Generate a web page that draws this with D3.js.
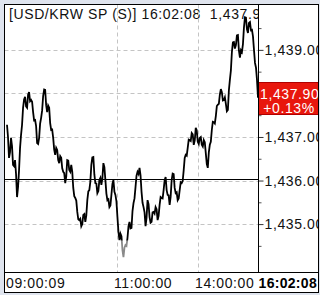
<!DOCTYPE html>
<html>
<head>
<meta charset="utf-8">
<script src="https://cdn.jsdelivr.net/npm/d3@7"></script>
<style>
body { margin: 0; background: #dfe4ee; }
svg { display: block; }
text { font-family: "Liberation Sans", Arial, sans-serif; font-size: 14px; letter-spacing: 0.6px; }
</style>
</head>
<body>
<svg id="chart"></svg>
<script>
// tick prices, evenly spaced from 09:00:09 to 16:02:08
var prices = [
  1437.28, 1437.00, 1436.52, 1436.65, 1436.98, 1436.79, 1436.36, 1436.33, 1436.47, 1436.15,
  1435.62, 1435.85, 1436.24, 1436.75, 1437.05, 1437.28, 1437.67, 1437.86, 1437.92, 1437.70,
  1437.67, 1437.97, 1438.03, 1437.82, 1437.85, 1437.81, 1437.57, 1437.38, 1437.39, 1437.25,
  1436.86, 1436.84, 1436.98, 1437.31, 1437.44, 1437.61, 1437.94, 1438.09, 1438.08, 1437.73,
  1437.57, 1437.72, 1437.67, 1437.32, 1437.16, 1437.17, 1436.98, 1436.71, 1436.59, 1436.75,
  1436.70, 1436.47, 1436.40, 1436.56, 1436.52, 1436.28, 1436.20, 1436.17, 1435.94, 1436.09,
  1436.47, 1436.46, 1436.24, 1436.20, 1436.36, 1436.20, 1435.83, 1435.64, 1435.60, 1435.54,
  1435.28, 1435.11, 1435.09, 1435.12, 1434.95, 1435.00, 1435.21, 1435.23, 1435.05, 1435.20,
  1435.55, 1435.75, 1435.78, 1435.97, 1436.36, 1436.53, 1436.54, 1436.14, 1435.94, 1435.93,
  1435.71, 1435.76, 1436.01, 1436.06, 1435.90, 1436.05, 1436.40, 1436.31, 1436.01, 1435.70,
  1435.55, 1435.57, 1435.39, 1435.43, 1435.67, 1435.92, 1436.01, 1435.74, 1435.67, 1435.52,
  1435.16, 1434.82, 1434.63, 1434.78, 1434.72, 1434.40, 1434.24, 1434.46, 1434.52, 1434.50,
  1434.68, 1434.95, 1435.05, 1434.90, 1434.91, 1435.30, 1435.48, 1435.59, 1435.85, 1436.11,
  1436.20, 1436.15, 1436.29, 1436.12, 1435.74, 1435.49, 1435.39, 1435.27, 1434.95, 1435.15,
  1435.55, 1435.46, 1435.16, 1435.03, 1435.05, 1435.27, 1435.28, 1435.24, 1435.39, 1435.34,
  1435.09, 1435.19, 1435.44, 1435.62, 1435.60, 1435.59, 1435.78, 1436.01, 1436.08, 1435.78,
  1435.67, 1435.66, 1435.44, 1435.63, 1436.01, 1436.16, 1436.15, 1435.83, 1435.71, 1435.73,
  1435.55, 1435.59, 1435.78, 1435.96, 1435.94, 1435.99, 1436.24, 1436.52, 1436.59, 1436.57,
  1436.75, 1436.94, 1436.93, 1436.91, 1437.09, 1437.06, 1436.82, 1436.92, 1437.21, 1437.15,
  1436.89, 1436.84, 1436.98, 1437.00, 1436.82, 1436.78, 1436.93, 1436.88, 1436.63, 1436.38,
  1436.29, 1436.64, 1436.82, 1436.89, 1437.16, 1437.35, 1437.34, 1437.31, 1437.48, 1437.71,
  1437.74, 1437.76, 1437.97, 1438.10, 1438.03, 1437.84, 1437.85, 1437.91, 1437.76, 1437.59,
  1437.62, 1438.07, 1438.31, 1438.53, 1438.95, 1439.17, 1439.18, 1439.03, 1439.11, 1439.33,
  1439.34, 1438.98, 1438.82, 1438.99, 1438.95, 1439.13, 1439.51, 1439.75, 1439.74, 1439.47,
  1439.39, 1439.62, 1439.64, 1439.45, 1439.46, 1439.31, 1439.00, 1438.70, 1438.59, 1438.31,
  1437.90
];
var prevClose = 1436.03;
var lowMark = 1434.62;
var lastPrice = 1437.90;
var changeText = "+0.13%";
var title = "[USD/KRW SP (S)]";
var lastTime = "16:02:08";

var yTicks = [1435, 1436, 1437, 1438, 1439];
var yMinor = [1434.5, 1435.5, 1436.5, 1437.5, 1438.5, 1439.5];
var timeLabels = ["09:00:09", "11:00:00", "14:00:00"];
var timeIndex = [0, 110, 190];

var width = 320, height = 295;
var fLeft = 4.5, fTop = 4.5, fRight = 318.5, plotRight = 258.5, plotBottom = 272.5, fBottom = 292.5;

var svg = d3.select("#chart").attr("width", width).attr("height", height);
var fmt = d3.format(",.2f");

svg.append("rect")
  .attr("x", fLeft).attr("y", fTop)
  .attr("width", fRight - fLeft).attr("height", fBottom - fTop)
  .attr("fill", "#fff");

var x = d3.scaleLinear().domain([0, prices.length - 1]).range([7, 258]);
var y = d3.scaleLinear().domain([1433.9, 1440.03]).range([272, 5]);

// header
svg.append("text")
  .attr("x", 9).attr("y", 19)
  .attr("fill", "#111")
  .attr("xml:space", "preserve")
  .text(title + " " + lastTime + "  " + fmt(lastPrice));

// grid
svg.selectAll(".hgrid")
  .data(yTicks)
  .enter()
  .append("line")
  .attr("x1", fLeft).attr("x2", plotRight)
  .attr("y1", function(d) { return Math.round(y(d)) + 0.5; })
  .attr("y2", function(d) { return Math.round(y(d)) + 0.5; })
  .attr("stroke", "#c4c4c4")
  .attr("stroke-dasharray", "4,3");

svg.selectAll(".vgrid")
  .data(timeIndex.slice(1))
  .enter()
  .append("line")
  .attr("x1", function(d) { return Math.round(x(d)) + 0.5; })
  .attr("x2", function(d) { return Math.round(x(d)) + 0.5; })
  .attr("y1", fTop).attr("y2", plotBottom)
  .attr("stroke", "#c4c4c4")
  .attr("stroke-dasharray", "4,3");

svg.append("line")
  .attr("x1", fLeft).attr("x2", plotRight)
  .attr("y1", Math.round(y(prevClose)) + 0.5)
  .attr("y2", Math.round(y(prevClose)) + 0.5)
  .attr("stroke", "#000");

// price line, black above the low mark, grey below it
var line = d3.line()
  .x(function(d, i) { return x(i); })
  .y(function(d) { return y(d); });

var defs = svg.append("defs");
defs.append("clipPath").attr("id", "upper")
  .append("rect")
  .attr("x", 0).attr("y", 0)
  .attr("width", plotRight).attr("height", y(lowMark));
defs.append("clipPath").attr("id", "lower")
  .append("rect")
  .attr("x", 0).attr("y", y(lowMark))
  .attr("width", plotRight).attr("height", plotBottom - y(lowMark));
defs.append("clipPath").attr("id", "panel")
  .append("rect")
  .attr("x", plotRight).attr("y", fTop)
  .attr("width", fRight - plotRight).attr("height", plotBottom - fTop);

svg.append("path")
  .datum(prices)
  .attr("d", line)
  .attr("clip-path", "url(#upper)")
  .attr("fill", "none")
  .attr("stroke", "#000")
  .attr("stroke-width", 1.8);

svg.append("path")
  .datum(prices)
  .attr("d", line)
  .attr("clip-path", "url(#lower)")
  .attr("fill", "none")
  .attr("stroke", "#8a8a8a")
  .attr("stroke-width", 1.8);

// right price panel
svg.append("rect")
  .attr("x", plotRight).attr("y", fTop)
  .attr("width", fRight - plotRight).attr("height", plotBottom - fTop)
  .attr("fill", "#fff");

var panel = svg.append("g").attr("clip-path", "url(#panel)");

var axisG = panel.append("g")
  .attr("transform", "translate(" + plotRight + ",0)")
  .call(d3.axisRight(y).tickValues(yTicks).tickSize(5).tickPadding(1)
    .tickFormat(function(d) { return Math.abs(d - lastPrice) < 0.4 ? "" : fmt(d); }));
axisG.select(".domain").remove();
axisG.selectAll("text")
  .attr("fill", "#111")
  .style("font-size", "14px")
  .style("font-family", "'Liberation Sans', Arial, sans-serif");
axisG.selectAll("line").attr("stroke", "#333");

var minorG = panel.append("g")
  .attr("transform", "translate(" + plotRight + ",0)")
  .call(d3.axisRight(y).tickValues(yMinor).tickSize(3).tickFormat(""));
minorG.select(".domain").remove();
minorG.selectAll("line").attr("stroke", "#555");

// last price tag
var tagY = Math.round(y(lastPrice));
panel.append("rect")
  .attr("x", plotRight).attr("y", tagY - 15.5)
  .attr("width", 62).attr("height", 32)
  .attr("fill", "#e8170d")
  .attr("stroke", "#b00000");
panel.append("text")
  .attr("x", 260).attr("y", tagY + 0.5)
  .attr("fill", "#fff")
  .text(fmt(lastPrice));
panel.append("text")
  .attr("x", 289).attr("y", tagY + 15)
  .attr("text-anchor", "middle")
  .attr("fill", "#fff")
  .text(changeText);

svg.append("line")
  .attr("x1", plotRight).attr("x2", plotRight)
  .attr("y1", fTop).attr("y2", plotBottom)
  .attr("stroke", "#000");

// time row
svg.append("rect")
  .attr("x", fLeft).attr("y", plotBottom)
  .attr("width", fRight - fLeft).attr("height", fBottom - plotBottom)
  .attr("fill", "#fff");

svg.selectAll(".tlabel")
  .data(timeLabels)
  .enter()
  .append("text")
  .attr("x", function(d, i) { return i == 0 ? 6 : Math.round(x(timeIndex[i])) - 3; })
  .attr("y", 288)
  .attr("fill", "#111")
  .text(function(d) { return d; });

svg.append("text")
  .attr("x", 317).attr("y", 288)
  .attr("text-anchor", "end")
  .attr("font-weight", "bold")
  .style("letter-spacing", "0.3px")
  .attr("fill", "#000")
  .text(lastTime);

// frame
svg.append("rect")
  .attr("x", fLeft).attr("y", fTop)
  .attr("width", fRight - fLeft).attr("height", fBottom - fTop)
  .attr("fill", "none")
  .attr("stroke", "#000");
svg.append("line")
  .attr("x1", fLeft).attr("x2", fRight)
  .attr("y1", plotBottom).attr("y2", plotBottom)
  .attr("stroke", "#000");
</script>
</body>
</html>
